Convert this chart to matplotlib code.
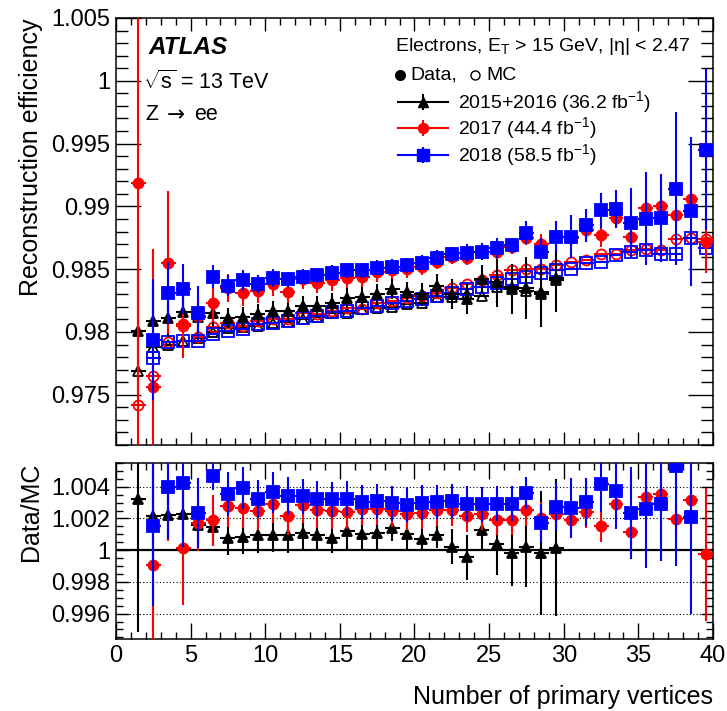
import numpy as np
import matplotlib
matplotlib.use("Agg")
import matplotlib.pyplot as plt
from matplotlib.ticker import MultipleLocator

plt.rcParams['font.family'] = ['Liberation Sans', 'DejaVu Sans']
plt.rcParams['mathtext.fontset'] = 'custom'
plt.rcParams['mathtext.rm'] = 'Liberation Sans'
plt.rcParams['mathtext.it'] = 'Liberation Sans:italic'
plt.rcParams['mathtext.bf'] = 'Liberation Sans:bold'

# bin centres (number of primary vertices)
x_1516 = [1.5 + i for i in range(29)]
x_2017 = [1.5 + i for i in range(39)]
x_2018 = [2.5 + i for i in range(38)]

# 2015+2016
data_1516 = [0.9801, 0.9809, 0.9811, 0.9816, 0.9812, 0.9815, 0.9811, 0.9812, 0.9814, 0.9817,
             0.9817, 0.9821, 0.9821, 0.9823, 0.9827, 0.9828, 0.9830, 0.9834, 0.9832, 0.9830,
             0.9837, 0.9830, 0.9826, 0.9842, 0.9840, 0.9834, 0.9835, 0.9830, 0.9843]
err_1516 = [0.0050, 0.0025, 0.0015, 0.0013, 0.0012, 0.0010, 0.0008, 0.0008, 0.0008, 0.0008,
            0.0008, 0.0008, 0.0008, 0.0008, 0.0008, 0.0008, 0.0008, 0.0008, 0.0008, 0.0009,
            0.0009, 0.0012, 0.0012, 0.0011, 0.0020, 0.0020, 0.0025, 0.0026, 0.0027]
mc_1516 = [0.9769, 0.9788, 0.9790, 0.9793, 0.9795, 0.9800, 0.9803, 0.9804, 0.9805, 0.9807,
           0.9808, 0.9810, 0.9812, 0.9815, 0.9815, 0.9818, 0.9819, 0.9820, 0.9822, 0.9823,
           0.9828, 0.9828, 0.9830, 0.9829, 0.9836, 0.9836, 0.9833, 0.9832, 0.9841]
ratio_1516 = [1.00325, 1.00216, 1.00224, 1.0023, 1.00157, 1.00147, 1.0008, 1.00084, 1.00094, 1.00098,
              1.00094, 1.00109, 1.00094, 1.0008, 1.00119, 1.0010, 1.00109, 1.0014, 1.00105, 1.00073,
              1.00094, 1.00021, 0.99954, 1.0013, 1.00042, 0.99983, 1.00021, 0.99983, 1.00017]
rerr_1516 = [0.0084, 0.0030, 0.0016, 0.0014, 0.0013, 0.0012, 0.0011, 0.0011, 0.0011, 0.0011,
             0.0011, 0.0011, 0.0010, 0.0010, 0.0011, 0.0010, 0.0010, 0.0008, 0.0010, 0.0008,
             0.0008, 0.0011, 0.0014, 0.0013, 0.0020, 0.0021, 0.0025, 0.0039, 0.0043]

# 2017
data_2017 = [0.9919, 0.9756, 0.9855, 0.9806, 0.9813, 0.9823, 0.9835, 0.9831, 0.9833, 0.9838,
             0.9832, 0.9842, 0.9839, 0.9841, 0.9843, 0.9844, 0.9848, 0.9849, 0.9850, 0.9852,
             0.9856, 0.9860, 0.9859, 0.9864, 0.9864, 0.9868, 0.9875, 0.9870, 0.9876, 0.9875,
             0.9881, 0.9877, 0.9891, 0.9876, 0.9899, 0.9900, 0.9893, 0.9906, 0.9872]
err_2017 = [0.0250, 0.0110, 0.0057, 0.0027, 0.0016, 0.0015, 0.0011, 0.0010, 0.0010, 0.0009,
            0.0009, 0.0008, 0.0008, 0.0008, 0.0008, 0.0008, 0.0008, 0.0007, 0.0007, 0.0007,
            0.0006, 0.0006, 0.0006, 0.0006, 0.0006, 0.0006, 0.0006, 0.0008, 0.0006, 0.0007,
            0.0007, 0.0009, 0.0008, 0.0007, 0.0005, 0.0005, 0.0006, 0.0005, 0.0025]
mc_2017 = [0.9742, 0.9765, 0.9792, 0.9805, 0.9796, 0.9804, 0.9807, 0.9805, 0.9809, 0.9810,
           0.9810, 0.9815, 0.9814, 0.9817, 0.9819, 0.9818, 0.9823, 0.9825, 0.9827, 0.9829,
           0.9831, 0.9835, 0.9838, 0.9841, 0.9845, 0.9849, 0.9850, 0.9850, 0.9853, 0.9856,
           0.9857, 0.9862, 0.9862, 0.9865, 0.9866, 0.9865, 0.9874, 0.9875, 0.9874]
ratio_2017 = [np.nan, 0.99906, 1.0064, 1.00017, 1.00172, 1.00188, 1.00276, 1.00268, 1.00245, 1.00289,
              1.00214, 1.00283, 1.00251, 1.00245, 1.00241, 1.00262, 1.00258, 1.00245, 1.0023, 1.00235,
              1.00255, 1.00251, 1.00214, 1.0023, 1.00193, 1.00193, 1.00255, 1.00203, 1.0023, 1.00193,
              1.00241, 1.00153, 1.00293, 1.00115, 1.00335, 1.00352, 1.00195, 1.00318, 0.99975]
rerr_2017 = [np.nan, 0.0110, 0.0058, 0.0036, 0.0018, 0.0016, 0.0013, 0.0013, 0.0012, 0.0012,
             0.0012, 0.0011, 0.0011, 0.0011, 0.0011, 0.0010, 0.0010, 0.0010, 0.0010, 0.0010,
             0.0010, 0.0010, 0.0010, 0.0010, 0.0010, 0.0010, 0.0010, 0.0010, 0.0010, 0.0010,
             0.0010, 0.0010, 0.0010, 0.0013, 0.0010, 0.0010, 0.0011, 0.0011, 0.0042]

# 2018
data_2018 = [0.9794, 0.9831, 0.9834, 0.9815, 0.9844, 0.9837, 0.9841, 0.9838, 0.9843, 0.9842,
             0.9844, 0.9845, 0.9847, 0.9849, 0.9849, 0.9851, 0.9852, 0.9853, 0.9855, 0.9859,
             0.9862, 0.9863, 0.9864, 0.9867, 0.9869, 0.9879, 0.9864, 0.9876, 0.9876, 0.9885,
             0.9897, 0.9898, 0.9887, 0.9890, 0.9891, 0.9914, 0.9896, 0.9945]
err_2018 = [0.0048, 0.0025, 0.0020, 0.0022, 0.0009, 0.0008, 0.0008, 0.0007, 0.0007, 0.0006,
            0.0006, 0.0006, 0.0006, 0.0006, 0.0006, 0.0006, 0.0006, 0.0006, 0.0006, 0.0006,
            0.0006, 0.0007, 0.0007, 0.0008, 0.0006, 0.0009, 0.0011, 0.0012, 0.0017, 0.0013,
            0.0014, 0.0015, 0.0028, 0.0037, 0.0035, 0.0061, 0.0059, 0.0064]
mc_2018 = [0.9779, 0.9792, 0.9793, 0.9793, 0.9798, 0.9801, 0.9802, 0.9806, 0.9807, 0.9809,
           0.9811, 0.9813, 0.9816, 0.9817, 0.9819, 0.9821, 0.9823, 0.9825, 0.9826, 0.9829,
           0.9831, 0.9834, 0.9836, 0.9839, 0.9842, 0.9844, 0.9847, 0.9849, 0.9850, 0.9855,
           0.9856, 0.9861, 0.9864, 0.9865, 0.9862, 0.9862, 0.9875, 0.9867]
ratio_2018 = [1.0015, 1.00398, 1.00423, 1.00237, 1.00471, 1.00356, 1.00392, 1.00325, 1.00366, 1.00339,
              1.00339, 1.00325, 1.0032, 1.00325, 1.00304, 1.00308, 1.00297, 1.00287, 1.0030, 1.00304,
              1.0031, 1.00293, 1.00289, 1.00293, 1.00293, 1.00362, 1.00172, 1.00272, 1.00266, 1.00304,
              1.00419, 1.00373, 1.00237, 1.00258, 1.00293, 1.00528, 1.00209, np.nan]
rerr_2018 = [0.0050, 0.0033, 0.0040, 0.0022, 0.0009, 0.0014, 0.0013, 0.0012, 0.0013, 0.0012,
             0.0011, 0.0011, 0.0011, 0.0011, 0.0011, 0.0011, 0.0011, 0.0011, 0.0011, 0.0011,
             0.0011, 0.0011, 0.0011, 0.0011, 0.0011, 0.0010, 0.0012, 0.0015, 0.0019, 0.0015,
             0.0018, 0.0024, 0.0029, 0.0037, 0.0036, 0.0063, 0.0061, np.nan]

labels = ['2015+2016 (36.2 fb$^{-1}$)', '2017 (44.4 fb$^{-1}$)', '2018 (58.5 fb$^{-1}$)']
colors = ['black', '#ff0000', '#0000ff']
markers = ['^', 'o', 's']
msizes = [7.5, 7.2, 8.2]

fig = plt.figure(figsize=(7.27, 7.11), dpi=100)
ax = fig.add_axes([0.1596, 0.3741, 0.8211, 0.6006])
rax = fig.add_axes([0.1596, 0.1013, 0.8211, 0.2475])


def draw(a, x, y, yerr, c, m, ms, filled, z):
    a.errorbar(x, y, xerr=0.5, yerr=yerr, fmt=m, color=c, ms=ms,
               mfc=c if filled else 'none', mec=c, mew=1.3,
               elinewidth=1.5, capsize=0, zorder=z)


series = [(x_1516, data_1516, err_1516, mc_1516, ratio_1516, rerr_1516),
          (x_2017, data_2017, err_2017, mc_2017, ratio_2017, rerr_2017),
          (x_2018, data_2018, err_2018, mc_2018, ratio_2018, rerr_2018)]

for i, (x, d, e, mc, r, re) in enumerate(series):
    draw(ax, x, mc, None, colors[i], markers[i], msizes[i], False, 3 + i)
for i, (x, d, e, mc, r, re) in enumerate(series):
    draw(ax, x, d, e, colors[i], markers[i], msizes[i], True, 6 + i)
    draw(rax, x, r, re, colors[i], markers[i], msizes[i], True, 6 + i)

# ratio reference lines
rax.axhline(1.0, color='black', lw=1.6, zorder=2)
for yy in [0.996, 0.998, 1.002, 1.004]:
    rax.axhline(yy, color='black', lw=0.8, ls=(0, (1, 2)), zorder=1)

ax.set_xlim(0, 40)
ax.set_ylim(0.971, 1.005)
rax.set_xlim(0, 40)
rax.set_ylim(0.9944, 1.0055)

ax.xaxis.set_major_locator(MultipleLocator(5))
ax.xaxis.set_minor_locator(MultipleLocator(1))
ax.yaxis.set_major_locator(MultipleLocator(0.005))
ax.yaxis.set_minor_locator(MultipleLocator(0.001))
rax.xaxis.set_major_locator(MultipleLocator(5))
rax.xaxis.set_minor_locator(MultipleLocator(1))
rax.yaxis.set_major_locator(MultipleLocator(0.002))
rax.yaxis.set_minor_locator(MultipleLocator(0.0005))

ax.set_yticks([0.975, 0.98, 0.985, 0.99, 0.995, 1.0, 1.005])
ax.set_yticklabels(['0.975', '0.98', '0.985', '0.99', '0.995', '1', '1.005'])
rax.set_yticks([0.996, 0.998, 1.0, 1.002, 1.004])
rax.set_yticklabels(['0.996', '0.998', '1', '1.002', '1.004'])
ax.set_xticklabels([])

for a in (ax, rax):
    for s in a.spines.values():
        s.set_linewidth(1.1)
    a.tick_params(which='both', direction='in', top=True, right=True,
                  labelsize=17, width=1.0, pad=4)
ax.tick_params(axis='y', which='major', length=18)
ax.tick_params(axis='y', which='minor', length=8.5)
ax.tick_params(axis='x', which='major', length=9.5)
ax.tick_params(axis='x', which='minor', length=5)
rax.tick_params(axis='x', which='major', length=11.5)
rax.tick_params(axis='x', which='minor', length=5)
rax.tick_params(axis='y', which='major', length=9)
rax.tick_params(axis='y', which='minor', length=5)

fig.text(0.042, 1 - 18 / 711, 'Reconstruction efficiency', rotation=90,
         ha='center', va='top', fontsize=18)
fig.text(0.042, 1 - 463 / 711, 'Data/MC', rotation=90,
         ha='center', va='top', fontsize=18)
fig.text(713 / 727, 1 - 697 / 711, 'Number of primary vertices',
         ha='right', va='center', fontsize=18)

# labels inside the main panel
tr = ax.transAxes
ax.text(0.0536, 0.932, 'ATLAS', transform=tr, fontsize=17.5,
        fontweight='bold', fontstyle='italic', va='center', ha='left')
ax.text(0.046, 0.850, '$\\sqrt{\\mathrm{s}}$ = 13 TeV', transform=tr, fontsize=15.5,
        va='center', ha='left')
ax.text(0.049, 0.773, 'Z', transform=tr, fontsize=15.5, va='center', ha='left')
ax.text(0.085, 0.773, '→', transform=tr, fontsize=15.5, va='center', ha='left',
        family=['DejaVu Sans'])
ax.text(0.131, 0.773, 'ee', transform=tr, fontsize=15.5, va='center', ha='left')

ax.text(0.4673, 0.934, 'Electrons, E$_{\\mathrm{T}}$ > 15 GeV, |η| < 2.47',
        transform=tr, fontsize=14, va='center', ha='left')
ax.plot([0.4757], [0.866], 'o', color='black', ms=7, transform=tr, clip_on=False)
ax.text(0.4925, 0.866, 'Data,', transform=tr, fontsize=14, va='center', ha='left')
ax.plot([0.6013], [0.866], 'o', mfc='none', mec='black', mew=1.0, ms=6.5,
        transform=tr, clip_on=False)
ax.text(0.6198, 0.866, 'MC', transform=tr, fontsize=14, va='center', ha='left')

row_y = [0.8033, 0.7424, 0.6792]
for i in range(3):
    yy = row_y[i]
    ax.plot([0.4724, 0.5561], [yy, yy], color=colors[i], lw=1.5, transform=tr, clip_on=False)
    ax.plot([0.5142, 0.5142], [yy - 0.017, yy + 0.017], color=colors[i], lw=1.5,
            transform=tr, clip_on=False)
    ax.plot([0.5142], [yy], markers[i], color=colors[i], ms=msizes[i],
            transform=tr, clip_on=False)
    ax.text(0.5729, yy, labels[i], transform=tr, fontsize=14, va='center', ha='left')

fig.savefig('out.png', dpi=100)
